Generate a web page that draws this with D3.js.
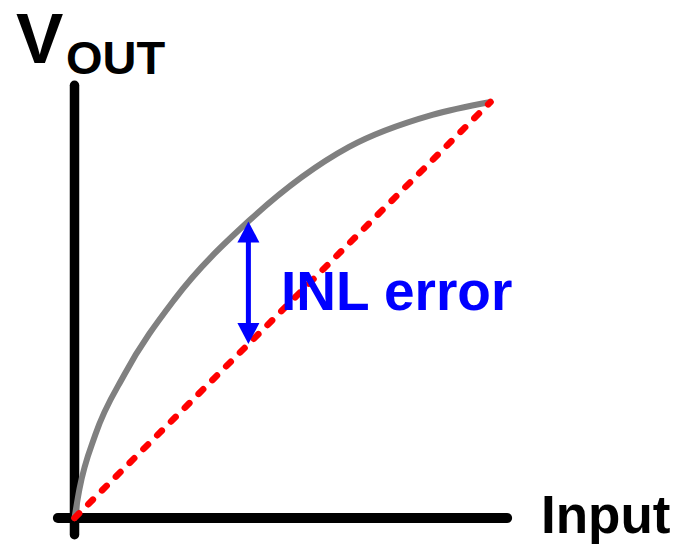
<!DOCTYPE html>
<html><head><meta charset="utf-8">
<script src="https://cdn.jsdelivr.net/npm/d3@7"></script>
<style>html,body{margin:0;padding:0;background:#fff;}svg{display:block;}</style>
</head><body>
<script>
// Data (normalized input / output)
const inputValues  = [0, 0.012, 0.05, 0.12, 0.24, 0.42, 0.66, 0.86, 1.0];
const outputValues = [0, 0.07, 0.2, 0.345, 0.525, 0.715, 0.892, 0.969, 1.0];
const idealLine = [[0, 0], [1, 1]];
const errorAt = 0.418;          // input where the INL error is marked
const errorCurveValue = 0.713;  // curve value at that input
const labels = {y: "V", ySub: "OUT", x: "Input", err: "INL error"};

const W = 686, H = 545;
const svg = d3.select("body").append("svg").attr("width", W).attr("height", H);
const x = d3.scaleLinear().domain([0, 1]).range([74.5, 490.5]);
const y = d3.scaleLinear().domain([0, 1]).range([518, 102]);
const font = "'Liberation Sans', Arial, sans-serif";

// axes
svg.append("line").attr("x1", x(0)).attr("x2", x(0)).attr("y1", y(-0.04)).attr("y2", y(1.04))
  .attr("stroke", "#000").attr("stroke-width", 9.5).attr("stroke-linecap", "round");
svg.append("line").attr("x1", x(-0.04)).attr("x2", x(1.04)).attr("y1", y(0)).attr("y2", y(0))
  .attr("stroke", "#000").attr("stroke-width", 10).attr("stroke-linecap", "round");

// curve
const pts = inputValues.map((v, i) => [v, outputValues[i]]);
const line = d3.line().x(d => x(d[0])).y(d => y(d[1])).curve(d3.curveMonotoneX);
svg.append("path").attr("d", line(pts)).attr("fill", "none")
  .attr("stroke", "#808080").attr("stroke-width", 6).attr("stroke-linecap", "round");

// ideal dashed line
svg.append("path").attr("d", d3.line().x(d => x(d[0])).y(d => y(d[1]))(idealLine))
  .attr("fill", "none").attr("stroke", "#ff0000").attr("stroke-width", 6.5)
  .attr("stroke-linecap", "round").attr("stroke-dasharray", "6.5,13");

// INL error arrow
const ax = x(errorAt), yTop = y(errorCurveValue), yBot = y(errorAt);
const hl = 21, hw = 11;
svg.append("line").attr("x1", ax).attr("x2", ax).attr("y1", yTop + hl - 2).attr("y2", yBot - hl + 2)
  .attr("stroke", "#0000ff").attr("stroke-width", 5);
svg.append("path").attr("d", `M${ax},${yTop}L${ax - hw},${yTop + hl}L${ax + hw},${yTop + hl}Z`).attr("fill", "#0000ff");
svg.append("path").attr("d", `M${ax},${yBot}L${ax - hw},${yBot - hl}L${ax + hw},${yBot - hl}Z`).attr("fill", "#0000ff");

svg.append("text").attr("x", 281).attr("y", 310).attr("font-family", font).attr("font-weight", "bold")
  .attr("font-size", 55).attr("fill", "#0000ff").text(labels.err);

// axis labels
svg.append("text").attr("x", 16).attr("y", 63).attr("font-family", font).attr("font-weight", "bold")
  .attr("font-size", 71).attr("fill", "#000").text(labels.y);
svg.append("text").attr("x", 66).attr("y", 74).attr("font-family", font).attr("font-weight", "bold")
  .attr("font-size", 47).attr("fill", "#000").text(labels.ySub);
svg.append("text").attr("x", 541).attr("y", 533).attr("font-family", font).attr("font-weight", "bold")
  .attr("font-size", 53).attr("fill", "#000").text(labels.x);
</script>
</body></html>
